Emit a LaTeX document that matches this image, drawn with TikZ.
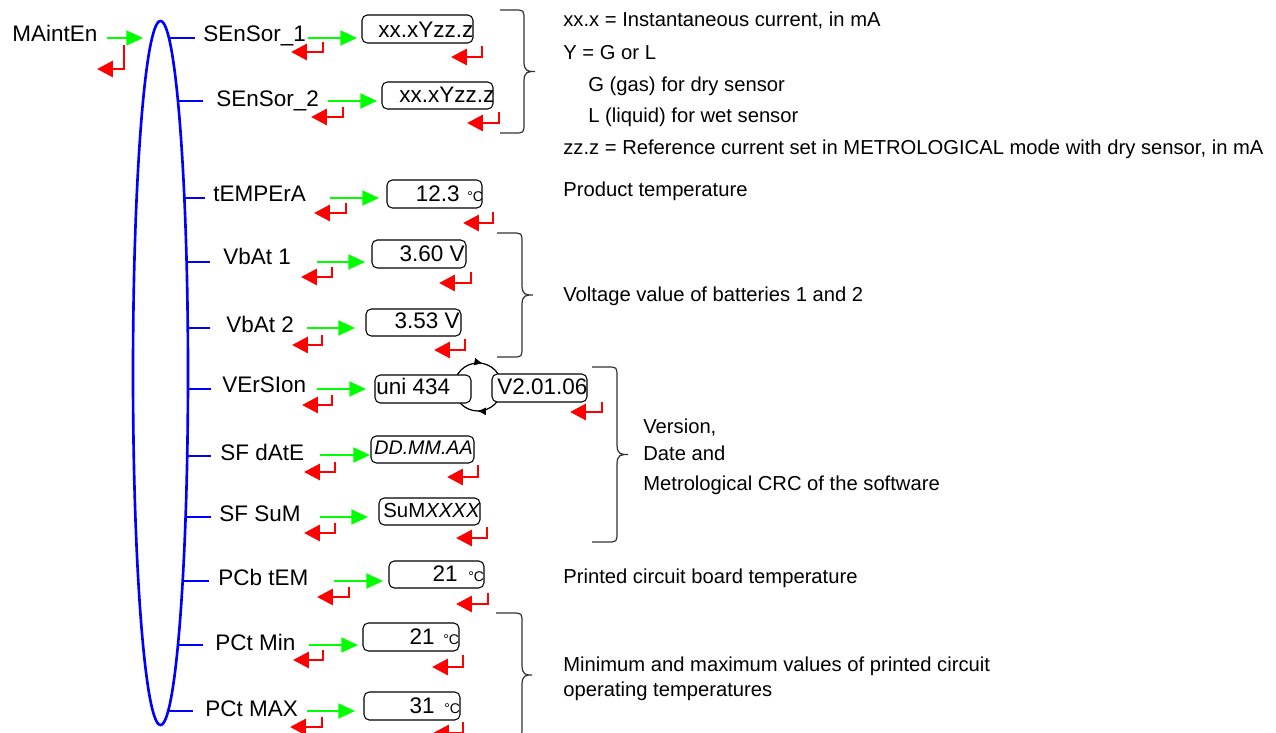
\documentclass[tikz,border=0pt]{standalone}
\usepackage{fontspec}
\setmainfont{Liberation Sans}
\usetikzlibrary{arrows.meta,decorations.markings}
\definecolor{mygreen}{RGB}{0,255,0}
\definecolor{myred}{RGB}{255,0,0}
\definecolor{myblue}{RGB}{0,0,255}
\tikzset{
 lbl/.style={anchor=base west, inner sep=0pt, font=\fontsize{12.8}{15}\selectfont},
 lble/.style={anchor=base east, inner sep=0pt, font=\fontsize{12.8}{15}\selectfont},
 note/.style={anchor=base west, inner sep=0pt, font=\fontsize{11.5}{14}\selectfont},
 unitlbl/.style={anchor=base west, inner sep=0pt, font=\fontsize{8}{9}\selectfont},
 valbox/.style={draw, rounded corners=3pt, line width=0.6pt, fill=white, inner sep=0pt},
 grnarrow/.style={draw=mygreen, line width=1.2pt, -{Triangle[length=9.5pt,width=8.5pt]}},
 retarrow/.style={draw=myred, line width=1.7pt, -{Triangle[length=9pt,width=9pt]}},
 tickln/.style={draw=myblue, line width=1.6pt},
 brc/.style={draw=black!80, line width=0.7pt},
}
\newcommand\tk[2]{\draw[tickln] ({160.5+27.5*sqrt(1-((#1-373)/352)^2)-1},#1) -- (#2,#1);}
\newcommand\gn[3]{\draw[grnarrow] (#1,#3) -- (#2,#3);}
\newcommand\rt[4]{\draw[retarrow] (#1,#2) |- (#4,#3);}
\newcommand\vb[5]{\node[valbox, minimum width={(#4-#2)*0.02cm}, minimum height={(#5-#3)*0.02cm}] (#1) at ({(#2+#4)/2},{(#3+#5)/2}) {};}
\newcommand\brce[5]{\draw[brc] (#1,#4) -- ({#2-10},#4) .. controls (#2,#4) .. (#2,{#4+10}) -- (#2,{(#4+#5)/2-10}) .. controls (#2,{(#4+#5)/2}) and ({#2+4},{(#4+#5)/2}) .. (#3,{(#4+#5)/2}) .. controls ({#2+4},{(#4+#5)/2}) and (#2,{(#4+#5)/2}) .. (#2,{(#4+#5)/2+10}) -- (#2,{#5-10}) .. controls (#2,#5) .. ({#2-10},#5) -- (#1,#5);}
\begin{document}
\begin{tikzpicture}[x=0.02cm,y=-0.02cm]
\useasboundingbox (0,0) rectangle (1276,733);
\clip (0,0) rectangle (1276,733);
% main ellipse
\draw[myblue, line width=1.5pt] (160.5,373) ellipse [x radius=27.5, y radius=352];
% ticks
\tk{38}{195}\tk{101}{203}\tk{198}{205}\tk{262}{210}\tk{328}{210}\tk{389}{211}
\tk{456}{211}\tk{517}{211}\tk{581}{209}\tk{645}{203}\tk{711}{193}
% labels
\node[lbl] (m) at (12,42) {MAintEn};
\node[lbl] (l1) at (203,42) {SEnSor\_1};
\node[lbl] (l2) at (216,107) {SEnSor\_2};
\node[lbl] (l3) at (213,202) {tEMPErA};
\node[lbl] (l4) at (223,265) {VbAt 1};
\node[lbl] (l5) at (226,333) {VbAt 2};
\node[lbl] (l6) at (222,393) {VErSIon};
\node[lbl] (l7) at (220,460) {SF dAtE};
\node[lbl] (l8) at (219,521) {SF SuM};
\node[lbl] (l9) at (218,585) {PCb tEM};
\node[lbl] (l10) at (215,650) {PCt Min};
\node[lbl] (l11) at (205,716) {PCt MAX};
% green arrows
\gn{107}{143}{38}
\gn{308}{357}{38}\gn{328}{377}{101}\gn{330}{379}{198}\gn{317}{365}{262}\gn{307}{355}{328}
\gn{317}{366}{389}\gn{320}{370}{455}\gn{320}{368}{517}\gn{334}{383}{581}\gn{309}{358}{645}\gn{307}{355}{711}
% red return arrows under labels
\rt{124}{45}{69}{97}
\rt{323}{42}{52}{291}\rt{343}{107}{117}{311}\rt{346}{203}{213}{314}\rt{332}{267}{277}{301}
\rt{322}{335}{345}{292}\rt{332}{395}{405}{302}\rt{335}{462}{472}{304}\rt{335}{523}{533}{304}
\rt{349}{587}{597}{317}\rt{323}{650}{660}{293}\rt{322}{717}{727}{290}
% version cycle
\draw[line width=0.7pt, postaction={decorate}, decoration={markings,
  mark=at position 0.256 with {\arrow{Latex[length=5pt,width=4.5pt]}},
  mark=at position 0.784 with {\arrow{Latex[length=5pt,width=4.5pt]}}}] (478,387) circle [radius=24];
% value boxes
\vb{b1}{362}{15}{473}{43}
\vb{b2}{382}{82}{493}{109}
\vb{b3}{387}{180}{482}{208}
\vb{b4}{372}{240}{466}{268}
\vb{b5}{366}{309}{461}{336}
\vb{b6}{375}{375}{471}{403}
\vb{b6b}{492}{374}{587}{402}
\vb{b7}{371}{436}{474}{463}
\vb{b8}{379}{498}{480}{525}
\vb{b9}{389}{561}{484}{588}
\vb{b10}{363}{623}{459}{651}
\vb{b11}{364}{692}{460}{720}
% box texts
\node[lbl] (v1) at (378,38) {xx.xYzz.z};
\node[lbl] (v2) at (399,103) {xx.xYzz.z};
\node[lble] (v3) at (460,202) {12.3};
\node[unitlbl] (u3) at (467,202) {°C};
\node[lble] (v4) at (465,262) {3.60 V};
\node[lble] (v5) at (460,329) {3.53 V};
\node[lbl] (v6) at (376,395) {uni 434};
\node[lbl] (v6b) at (497,395) {V2.01.06};
\node[lbl, font=\fontsize{11.2}{13}\selectfont\itshape] (v7) at (374,455) {DD.MM.AA};
\node[lbl, font=\fontsize{11.6}{13}\selectfont] (v8) at (383,518) {SuM\textit{XXXX}};
\node[lble] (v9) at (458,582) {21};
\node[unitlbl] (u9) at (468,582) {°C};
\node[lble] (v10) at (435,644) {21};
\node[unitlbl] (u10) at (443,644) {°C};
\node[lble] (v11) at (435,713) {31};
\node[unitlbl] (u11) at (444,713) {°C};
% red return arrows under boxes
\rt{482}{46}{57}{451}\rt{499}{112}{123}{467}\rt{493}{212}{223}{463}\rt{471}{272}{283}{439}
\rt{465}{339}{350}{434}\rt{602}{402}{412}{570}\rt{478}{465}{477}{447}\rt{487}{527}{538}{456}
\rt{488}{593}{604}{456}\rt{463}{655}{667}{432}\rt{463}{722}{733}{433}
% braces
\brce{500}{524}{535}{10}{133}
\brce{497}{522}{533}{233}{357}
\brce{592}{617}{628}{367}{542}
\brce{496}{522}{532}{613}{737}
% notes
\node[note] (n1) at (563,27) {xx.x = Instantaneous current, in mA};
\node[note] (n2) at (563,60) {Y = G or L};
\node[note] (n3) at (588,92) {G (gas) for dry sensor};
\node[note] (n4) at (588,123) {L (liquid) for wet sensor};
\node[note] (n5) at (563,155) {zz.z = Reference current set in METROLOGICAL mode with dry sensor, in mA};
\node[note] (n6) at (563,197) {Product temperature};
\node[note] (n7) at (563,302) {Voltage value of batteries 1 and 2};
\node[note] (n8) at (643,434) {Version,};
\node[note] (n9) at (643,460) {Date and};
\node[note] (n10) at (643,491) {Metrological CRC of the software};
\node[note] (n11) at (563,583) {Printed circuit board temperature};
\node[note] (n12) at (563,671) {Minimum and maximum values of printed circuit};
\node[note] (n13) at (563,696) {operating temperatures};
\end{tikzpicture}
\end{document}
